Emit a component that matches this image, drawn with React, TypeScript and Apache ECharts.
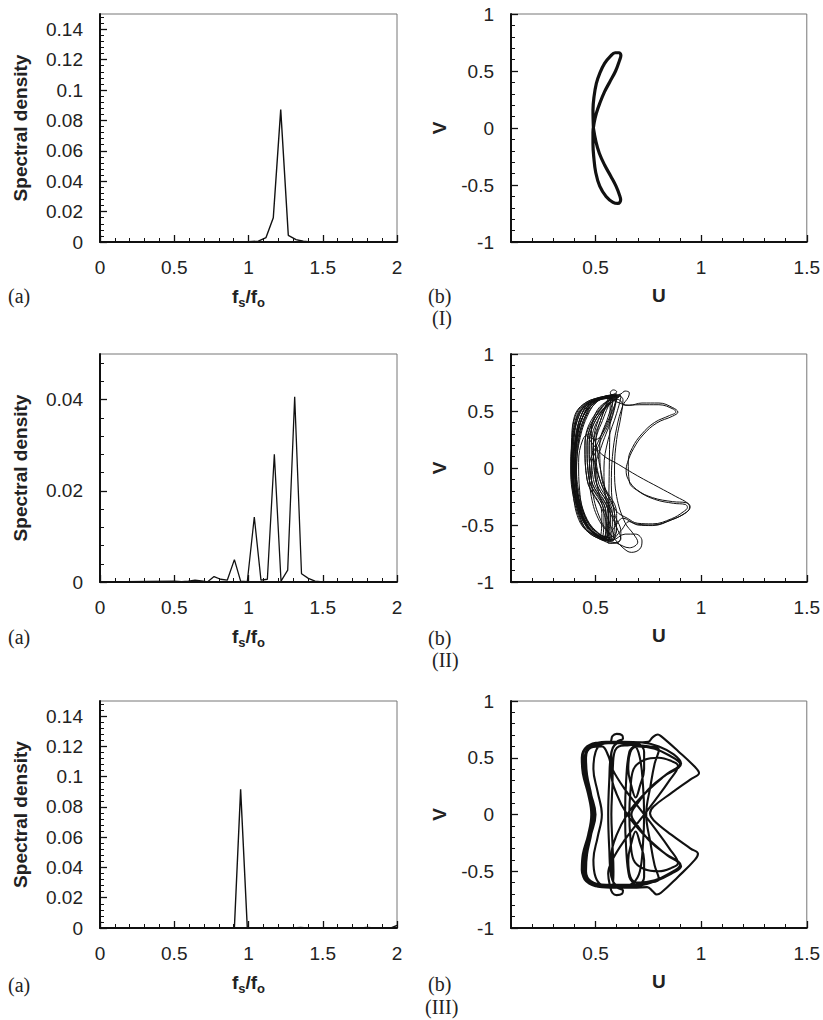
import React, { useEffect, useRef } from "react";
import * as echarts from "echarts";

// ---------- Data ----------
const specFreq1 = [0, 0.95, 1.0, 1.066, 1.118, 1.167, 1.217, 1.268, 1.32, 1.369, 1.42, 2.0];
const specDens1 = [0, 0, 0.0002, 0.0006, 0.0029, 0.016, 0.0871, 0.0044, 0.0016, 0.0005, 0, 0];

const specFreq2 = [0, 0.5, 0.55, 0.595, 0.64, 0.696, 0.723, 0.768, 0.812, 0.857, 0.905, 0.947, 0.992, 1.039, 1.084, 1.127, 1.174, 1.219, 1.264, 1.311, 1.357, 1.403, 1.448, 1.5, 1.6, 2.0];
const specDens2 = [0, 0.0002, 0.0001, 0.0002, 0.0004, 0.0002, 0, 0.0012, 0.0006, 0.0004, 0.0049, 0.0002, 0.0001, 0.01425, 0.0004, 0.0006, 0.028, 0.0002, 0.0026, 0.0406, 0.0018, 0.0008, 0.0002, 0, 0.0001, 0];

const specFreq3 = [0, 0.905, 0.947, 0.992, 1.3, 1.35, 1.4, 1.75, 1.8, 1.85, 1.96, 2.0];
const specDens3 = [0, 0, 0.0916, 0, 0, 0.0003, 0, 0, 0.0003, 0, 0, 0.0018];

const phaseI: number[][] = [
  [0.490, 0.000], [0.488, 0.158], [0.493, 0.275], [0.504, 0.392], [0.520, 0.480], [0.543, 0.567],
  [0.570, 0.628], [0.593, 0.660], [0.612, 0.660], [0.620, 0.635], [0.614, 0.595], [0.595, 0.500],
  [0.568, 0.406], [0.543, 0.319], [0.520, 0.216], [0.504, 0.129], [0.494, 0.050], [0.488, -0.040],
  [0.488, -0.140], [0.492, -0.260], [0.501, -0.390], [0.520, -0.510], [0.550, -0.600], [0.583, -0.652],
  [0.606, -0.662], [0.619, -0.630], [0.613, -0.585], [0.597, -0.510], [0.573, -0.425], [0.543, -0.325],
  [0.518, -0.222], [0.502, -0.120], [0.490, 0.000],
];

const phaseII: number[][] = [
  [0.56, 0.62], [0.60, 0.58], [0.66, 0.55], [0.72, 0.57], [0.80, 0.57], [0.865, 0.53], [0.89, 0.49], [0.865, 0.455],
  [0.79, 0.395], [0.725, 0.29], [0.68, 0.17], [0.652, 0.05], [0.645, -0.02], [0.655, -0.10], [0.695, -0.19],
  [0.77, -0.26], [0.865, -0.295], [0.93, -0.305], [0.948, -0.34], [0.93, -0.39], [0.865, -0.45], [0.77, -0.50],
  [0.69, -0.49], [0.63, -0.44], [0.59, -0.52], [0.55, -0.60], [0.50, -0.58], [0.45, -0.47], [0.41, -0.25],
  [0.395, 0.0], [0.405, 0.22], [0.44, 0.45], [0.50, 0.58], [0.56, 0.63], [0.60, 0.62],
  [0.58, 0.45], [0.53, 0.20], [0.50, 0.0], [0.52, -0.25], [0.57, -0.50], [0.59, -0.62], [0.56, -0.64],
  [0.49, -0.55], [0.44, -0.38], [0.41, -0.15], [0.405, 0.05], [0.415, 0.28], [0.45, 0.48], [0.52, 0.60],
  [0.59, 0.64], [0.62, 0.63], [0.60, 0.48], [0.56, 0.25], [0.54, 0.0], [0.55, -0.28], [0.60, -0.52],
  [0.62, -0.62], [0.58, -0.66], [0.51, -0.60], [0.45, -0.47], [0.415, -0.25], [0.40, 0.0], [0.41, 0.25],
  [0.43, 0.45], [0.48, 0.57], [0.55, 0.63], [0.60, 0.64], [0.575, 0.44], [0.52, 0.22], [0.48, 0.0],
  [0.49, -0.25], [0.53, -0.48], [0.57, -0.60], [0.55, -0.64], [0.48, -0.56], [0.43, -0.40], [0.395, -0.15],
  [0.387, 0.05], [0.39, 0.28], [0.41, 0.48], [0.46, 0.58], [0.53, 0.62], [0.585, 0.645], [0.60, 0.67],
  [0.585, 0.685], [0.57, 0.66], [0.58, 0.62], [0.57, 0.45], [0.51, 0.22], [0.47, 0.0], [0.48, -0.25],
  [0.52, -0.47], [0.58, -0.60], [0.63, -0.70], [0.67, -0.74], [0.71, -0.71], [0.72, -0.64], [0.69, -0.58],
  [0.64, -0.58], [0.58, -0.63], [0.52, -0.60], [0.46, -0.50], [0.42, -0.30], [0.405, -0.05], [0.41, 0.20],
  [0.43, 0.40], [0.47, 0.54], [0.54, 0.62], [0.61, 0.63], [0.63, 0.60], [0.62, 0.45], [0.60, 0.25],
  [0.59, 0.0], [0.60, -0.25], [0.64, -0.48], [0.68, -0.58], [0.70, -0.65], [0.66, -0.70], [0.60, -0.66],
  [0.53, -0.62], [0.47, -0.53], [0.43, -0.35], [0.41, -0.10], [0.415, 0.15], [0.44, 0.38], [0.49, 0.55],
  [0.55, 0.61], [0.61, 0.60], [0.64, 0.55], [0.71, 0.555], [0.80, 0.555], [0.87, 0.515], [0.88, 0.49],
  [0.85, 0.46], [0.78, 0.40], [0.72, 0.30], [0.675, 0.18], [0.655, 0.06], [0.66, -0.12], [0.70, -0.20],
  [0.78, -0.275], [0.87, -0.31], [0.925, -0.32], [0.935, -0.345], [0.915, -0.385], [0.86, -0.445],
  [0.77, -0.49], [0.70, -0.485], [0.65, -0.44], [0.60, -0.38], [0.55, -0.20], [0.52, 0.02], [0.50, 0.22],
  [0.47, 0.30], [0.44, 0.25], [0.42, 0.05], [0.425, -0.20], [0.45, -0.42], [0.51, -0.57], [0.56, -0.61],
  [0.60, -0.55], [0.57, -0.35], [0.52, -0.10], [0.49, 0.10], [0.48, 0.30], [0.50, 0.48], [0.55, 0.58],
  [0.60, 0.60], [0.56, 0.42], [0.50, 0.25], [0.46, 0.28], [0.53, 0.12], [0.61, 0.03], [0.70, -0.07],
  [0.80, -0.17], [0.88, -0.25], [0.94, -0.315], [0.945, -0.35], [0.92, -0.40], [0.86, -0.455], [0.77, -0.505],
  [0.70, -0.50], [0.66, -0.47], [0.62, -0.55], [0.57, -0.63], [0.50, -0.58], [0.44, -0.45], [0.40, -0.20],
  [0.392, 0.05], [0.40, 0.30], [0.42, 0.48], [0.47, 0.56], [0.53, 0.61], [0.58, 0.63], [0.62, 0.65],
  [0.64, 0.675], [0.66, 0.66], [0.655, 0.62], [0.63, 0.55], [0.60, 0.35], [0.58, 0.10], [0.575, -0.15],
  [0.59, -0.40], [0.62, -0.56], [0.61, -0.65], [0.56, -0.66],
  [0.57, 0.63], [0.47, 0.58], [0.42, 0.45], [0.39, 0.2], [0.385, 0], [0.395, -0.2], [0.43, -0.45], [0.47, -0.56], [0.53, -0.61], [0.54, -0.4], [0.47, -0.1], [0.46, 0.2], [0.50, 0.45],
  [0.59, 0.64], [0.48, 0.59], [0.43, 0.45], [0.40, 0.2], [0.39, 0], [0.40, -0.2], [0.44, -0.45], [0.49, -0.57], [0.55, -0.62], [0.56, -0.4], [0.49, -0.1], [0.48, 0.2], [0.52, 0.45],
  [0.61, 0.63], [0.50, 0.59], [0.44, 0.45], [0.405, 0.2], [0.395, 0], [0.405, -0.2], [0.445, -0.45], [0.50, -0.58], [0.57, -0.63], [0.58, -0.4], [0.51, -0.1], [0.50, 0.2], [0.54, 0.45],
  [0.58, 0.62], [0.46, 0.57], [0.41, 0.45], [0.388, 0.2], [0.383, 0], [0.39, -0.2], [0.425, -0.45], [0.46, -0.55], [0.52, -0.60], [0.53, -0.4], [0.46, -0.1], [0.45, 0.2], [0.49, 0.45],
  [0.60, 0.65], [0.51, 0.60], [0.45, 0.45], [0.41, 0.2], [0.40, 0], [0.41, -0.2], [0.45, -0.45], [0.50, -0.58], [0.56, -0.64], [0.57, -0.4], [0.50, -0.1], [0.49, 0.2], [0.53, 0.45],
  [0.56, 0.61], [0.47, 0.57], [0.42, 0.45], [0.395, 0.2], [0.39, 0], [0.40, -0.2], [0.44, -0.45], [0.48, -0.57], [0.54, -0.62], [0.55, -0.4], [0.48, -0.1], [0.47, 0.2], [0.51, 0.45],
  [0.62, 0.64], [0.52, 0.60], [0.46, 0.45], [0.42, 0.2], [0.41, 0], [0.42, -0.2], [0.46, -0.45], [0.52, -0.58], [0.58, -0.64], [0.60, -0.4], [0.53, -0.1], [0.52, 0.2], [0.56, 0.45],
  [0.59, 0.62], [0.48, 0.58], [0.43, 0.45], [0.40, 0.2], [0.395, 0], [0.40, -0.2], [0.435, -0.45], [0.49, -0.56], [0.55, -0.61], [0.55, -0.4], [0.47, -0.1], [0.46, 0.2], [0.50, 0.45],
  [0.57, 0.62], [0.465, 0.57], [0.415, 0.45], [0.39, 0.2], [0.388, 0], [0.395, -0.2], [0.43, -0.45], [0.47, -0.57], [0.53, -0.62], [0.56, -0.4], [0.48, -0.1], [0.47, 0.2], [0.51, 0.45],
  [0.60, 0.63], [0.49, 0.59], [0.44, 0.45], [0.40, 0.2], [0.392, 0], [0.40, -0.2], [0.44, -0.45], [0.50, -0.58], [0.56, -0.63], [0.54, -0.4], [0.46, -0.1], [0.45, 0.2], [0.50, 0.45],
  [0.61, 0.62], [0.51, 0.59], [0.45, 0.45], [0.415, 0.2], [0.405, 0], [0.415, -0.2], [0.455, -0.45], [0.51, -0.57], [0.58, -0.62], [0.59, -0.4], [0.52, -0.1], [0.50, 0.2], [0.53, 0.45],
  [0.58, 0.64], [0.46, 0.58], [0.40, 0.45], [0.386, 0.2], [0.384, 0], [0.392, -0.2], [0.42, -0.45], [0.47, -0.57], [0.54, -0.63], [0.57, -0.4], [0.50, -0.1], [0.49, 0.2], [0.52, 0.45],
  [0.58, 0.63],
];

const phaseIII: number[][] = [
  [0.60, 0.635], [0.52, 0.635], [0.46, 0.60], [0.435, 0.50], [0.44, 0.36], [0.465, 0.18], [0.48, 0.0],
  [0.465, -0.18], [0.44, -0.35], [0.435, -0.49], [0.46, -0.59], [0.52, -0.635], [0.60, -0.645], [0.68, -0.645],
  [0.745, -0.64], [0.77, -0.675], [0.79, -0.705], [0.81, -0.69], [0.89, -0.55], [0.97, -0.40], [0.985, -0.345],
  [0.95, -0.30], [0.86, -0.18], [0.775, -0.05], [0.758, 0.01], [0.775, 0.07], [0.86, 0.19], [0.95, 0.31],
  [0.99, 0.365], [0.97, 0.42], [0.89, 0.56], [0.81, 0.69], [0.795, 0.705], [0.77, 0.68], [0.75, 0.64],
  [0.69, 0.635], [0.62, 0.64], [0.55, 0.64], [0.48, 0.61], [0.45, 0.52], [0.45, 0.38], [0.47, 0.2],
  [0.49, 0.02], [0.475, -0.18], [0.45, -0.35], [0.445, -0.50], [0.47, -0.60], [0.53, -0.64], [0.62, -0.645],
  [0.70, -0.63], [0.78, -0.59], [0.86, -0.52], [0.905, -0.455], [0.82, -0.33], [0.72, -0.16], [0.65, 0.0],
  [0.60, 0.18], [0.575, 0.36], [0.575, 0.52], [0.59, 0.61], [0.63, 0.64], [0.72, 0.635], [0.80, 0.60],
  [0.87, 0.53], [0.905, 0.45], [0.82, 0.33], [0.72, 0.16], [0.65, 0.0], [0.60, -0.18], [0.575, -0.36],
  [0.575, -0.52], [0.59, -0.61], [0.63, -0.635], [0.68, -0.60], [0.71, -0.50], [0.725, -0.25], [0.73, 0.0],
  [0.725, 0.25], [0.71, 0.50], [0.685, 0.60], [0.66, 0.55], [0.645, 0.30], [0.64, 0.0], [0.645, -0.30],
  [0.66, -0.55], [0.685, -0.62], [0.62, -0.64], [0.53, -0.625], [0.47, -0.58], [0.45, -0.47], [0.455, -0.33],
  [0.48, -0.17], [0.50, 0.0], [0.48, 0.17], [0.455, 0.33], [0.45, 0.47], [0.47, 0.58], [0.53, 0.625],
  [0.57, 0.64], [0.58, 0.69], [0.60, 0.71], [0.625, 0.70], [0.63, 0.67], [0.60, 0.64], [0.575, 0.55],
  [0.565, 0.30], [0.56, 0.0], [0.565, -0.30], [0.575, -0.55], [0.60, -0.64], [0.63, -0.67], [0.625, -0.70],
  [0.60, -0.71], [0.58, -0.69], [0.57, -0.64], [0.56, -0.52], [0.58, -0.40], [0.64, -0.22], [0.71, -0.05],
  [0.78, 0.12], [0.85, 0.30], [0.89, 0.43], [0.86, 0.47], [0.80, 0.50], [0.73, 0.48], [0.68, 0.40],
  [0.665, 0.20], [0.66, 0.0], [0.665, -0.20], [0.68, -0.40], [0.73, -0.48], [0.80, -0.50], [0.86, -0.47],
  [0.89, -0.43], [0.85, -0.30], [0.78, -0.12], [0.71, 0.05], [0.64, 0.22], [0.58, 0.40], [0.56, 0.52],
  [0.53, 0.60], [0.48, 0.59], [0.455, 0.50], [0.46, 0.35], [0.48, 0.17], [0.49, 0.0], [0.48, -0.17],
  [0.46, -0.35], [0.455, -0.50], [0.48, -0.59], [0.55, -0.62], [0.65, -0.62], [0.75, -0.60], [0.80, -0.57],
  [0.78, -0.45], [0.76, -0.25], [0.74, 0.0], [0.76, 0.25], [0.78, 0.45], [0.80, 0.57], [0.75, 0.60],
  [0.65, 0.62], [0.60, 0.63], [0.53, 0.62], [0.50, 0.55], [0.49, 0.40], [0.51, 0.20], [0.53, 0.0],
  [0.51, -0.20], [0.49, -0.40], [0.50, -0.55], [0.53, -0.62], [0.58, -0.63], [0.585, -0.50], [0.58, -0.25],
  [0.575, 0.0], [0.58, 0.25], [0.585, 0.50], [0.61, 0.60], [0.66, 0.61], [0.70, 0.62], [0.73, 0.55],
  [0.73, 0.40], [0.71, 0.25], [0.69, 0.15], [0.67, 0.25], [0.655, 0.40], [0.665, 0.55], [0.70, 0.60],
  [0.78, 0.58], [0.85, 0.52], [0.90, 0.445], [0.84, 0.36], [0.76, 0.24], [0.70, 0.10], [0.67, 0.0],
  [0.70, -0.10], [0.76, -0.24], [0.84, -0.36], [0.90, -0.445], [0.85, -0.52], [0.78, -0.58], [0.70, -0.60],
  [0.665, -0.55], [0.655, -0.40], [0.67, -0.25], [0.69, -0.15], [0.71, -0.25], [0.73, -0.40], [0.73, -0.55],
  [0.70, -0.62], [0.62, -0.64], [0.54, -0.64], [0.47, -0.61], [0.44, -0.52], [0.445, -0.38], [0.47, -0.20],
  [0.485, 0.0], [0.47, 0.20], [0.445, 0.38], [0.44, 0.52], [0.47, 0.61], [0.55, 0.635],
];

const specXLabels = [0, 0.5, 1, 1.5, 2];
const specYLabels13 = [0, 0.02, 0.04, 0.06, 0.08, 0.1, 0.12, 0.14];
const specYLabels2 = [0, 0.02, 0.04];
const phaseXLabels = [0.5, 1, 1.5];
const phaseYLabels = [-1, -0.5, 0, 0.5, 1];

// minor tick positions (axis decoration)
function steps(from: number, to: number, step: number): number[] {
  const out: number[] = [];
  const n = Math.round((to - from) / step);
  for (let i = 0; i <= n; i++) out.push(+(from + i * step).toFixed(6));
  return out;
}

const FONT = '"Liberation Sans", Arial, Helvetica, sans-serif';
const SERIF = '"Liberation Serif", "Times New Roman", serif';

function fmt(v: number) {
  return String(+Number(v).toFixed(4));
}

export default function App() {
  const ref = useRef<HTMLDivElement>(null);
  useEffect(() => {
    if (!ref.current) return;
    const chart = echarts.init(ref.current, undefined, { renderer: "svg" });

    const W = 297;
    const grids = [
      { left: 100, top: 14, width: W, height: 228 },
      { left: 511, top: 14, width: W, height: 228 },
      { left: 100, top: 354, width: W, height: 228 },
      { left: 511, top: 354, width: W, height: 228 },
      { left: 100, top: 701, width: W, height: 227 },
      { left: 511, top: 701, width: W, height: 227 },
    ].map((g) => ({ ...g, show: true, borderColor: "#777", borderWidth: 1, containLabel: false }));

    const xAxes: any[] = [];
    const yAxes: any[] = [];

    const fsName = "{b|f}{s|s}{b|/f}{s|o}";
    const nameRich = {
      b: { fontSize: 19, fontWeight: "bold", fontFamily: FONT, color: "#222" },
      s: { fontSize: 13, fontWeight: "bold", fontFamily: FONT, color: "#222", padding: [12, 0, 0, 0] },
    };

    function addX(grid: number, min: number, max: number, labels: number[], minors: number[], name: string, rich: boolean) {
      xAxes.push({
        type: "value", gridIndex: grid, min, max, position: "bottom",
        axisLine: { show: true, onZero: false, lineStyle: { color: "#111", width: 2 } },
        axisTick: { show: true, inside: true, length: 7, customValues: labels, lineStyle: { color: "#111", width: 1.3 } },
        axisLabel: { show: true, customValues: labels, margin: 16, fontSize: 19, color: "#222", fontFamily: FONT, formatter: fmt },
        splitLine: { show: false },
        name, nameLocation: "middle", nameGap: rich ? 42 : 44,
        nameTextStyle: rich
          ? { rich: nameRich }
          : { fontSize: 19, fontWeight: "bold", fontFamily: FONT, color: "#222" },
      });
      xAxes.push({
        type: "value", gridIndex: grid, min, max, position: "bottom",
        axisLine: { show: false, onZero: false },
        axisTick: { show: true, inside: true, length: 4, customValues: minors, lineStyle: { color: "#111", width: 1 } },
        axisLabel: { show: false },
        splitLine: { show: false },
      });
    }
    function addY(grid: number, min: number, max: number, labels: number[], minors: number[], name: string) {
      yAxes.push({
        type: "value", gridIndex: grid, min, max, position: "left",
        axisLine: { show: true, onZero: false, lineStyle: { color: "#111", width: 2 } },
        axisTick: { show: true, inside: true, length: 7, customValues: labels, lineStyle: { color: "#111", width: 1.3 } },
        axisLabel: { show: true, customValues: labels, margin: 17, fontSize: 19, color: "#222", fontFamily: FONT, formatter: fmt },
        splitLine: { show: false },
        name, nameLocation: "middle", nameGap: name === "V" ? 62 : 70,
        nameTextStyle: { fontSize: 19, fontWeight: "bold", fontFamily: FONT, color: "#222" },
      });
      yAxes.push({
        type: "value", gridIndex: grid, min, max, position: "left",
        axisLine: { show: false, onZero: false },
        axisTick: { show: true, inside: true, length: 4, customValues: minors, lineStyle: { color: "#111", width: 1 } },
        axisLabel: { show: false },
        splitLine: { show: false },
      });
    }

    const specXMinor = steps(0, 2, 0.1);
    const phaseXMinor = steps(0.2, 1.5, 0.1);
    const phaseYMinor = steps(-1, 1, 0.1);

    // Row I
    addX(0, 0, 2, specXLabels, specXMinor, fsName, true);
    addY(0, 0, 0.15, specYLabels13, steps(0, 0.148, 0.004), "Spectral density");
    addX(1, 0.1, 1.5, phaseXLabels, phaseXMinor, "U", false);
    addY(1, -1, 1, phaseYLabels, phaseYMinor, "V");
    // Row II
    addX(2, 0, 2, specXLabels, specXMinor, fsName, true);
    addY(2, 0, 0.05, specYLabels2, steps(0, 0.048, 0.004), "Spectral density");
    addX(3, 0.1, 1.5, phaseXLabels, phaseXMinor, "U", false);
    addY(3, -1, 1, phaseYLabels, phaseYMinor, "V");
    // Row III
    addX(4, 0, 2, specXLabels, specXMinor, fsName, true);
    addY(4, 0, 0.15, specYLabels13, steps(0, 0.148, 0.004), "Spectral density");
    addX(5, 0.1, 1.5, phaseXLabels, phaseXMinor, "U", false);
    addY(5, -1, 1, phaseYLabels, phaseYMinor, "V");

    const pair = (xs: number[], ys: number[]) => xs.map((x, i) => [x, ys[i]]);

    const line = (grid: number, data: number[][], width: number, smooth: boolean | number) => ({
      type: "line",
      xAxisIndex: grid * 2,
      yAxisIndex: grid * 2,
      data,
      showSymbol: false,
      symbol: "none",
      smooth,
      lineStyle: { color: "#111", width },
      clip: true,
      silent: true,
    });

    const labelText = (text: string, x: number, y: number) => ({
      type: "text", x, y,
      style: { text, fontSize: 20, fontFamily: SERIF, fill: "#222", verticalAlign: "middle" },
    });

    chart.setOption({
      animation: false,
      backgroundColor: "#fff",
      grid: grids,
      xAxis: xAxes,
      yAxis: yAxes,
      series: [
        line(0, pair(specFreq1, specDens1), 1.4, false),
        line(1, phaseI, 3.2, 0.4),
        line(2, pair(specFreq2, specDens2), 1.3, false),
        line(3, phaseII, 1.0, 0.4),
        line(4, pair(specFreq3, specDens3), 1.4, false),
        line(5, phaseIII, 2.1, 0.4),
      ],
      graphic: [
        labelText("(a)", 8, 296),
        labelText("(b)", 428, 296),
        labelText("(I)", 432, 318),
        labelText("(a)", 8, 637),
        labelText("(b)", 428, 638),
        labelText("(II)", 432, 660),
        labelText("(a)", 8, 985),
        labelText("(b)", 428, 984),
        labelText("(III)", 425, 1007),
      ],
    });
    return () => chart.dispose();
  }, []);
  return (
    <div
      ref={ref}
      style={{ position: "absolute", left: 0, top: 0, width: 823, height: 1020, background: "#fff" }}
    />
  );
}
